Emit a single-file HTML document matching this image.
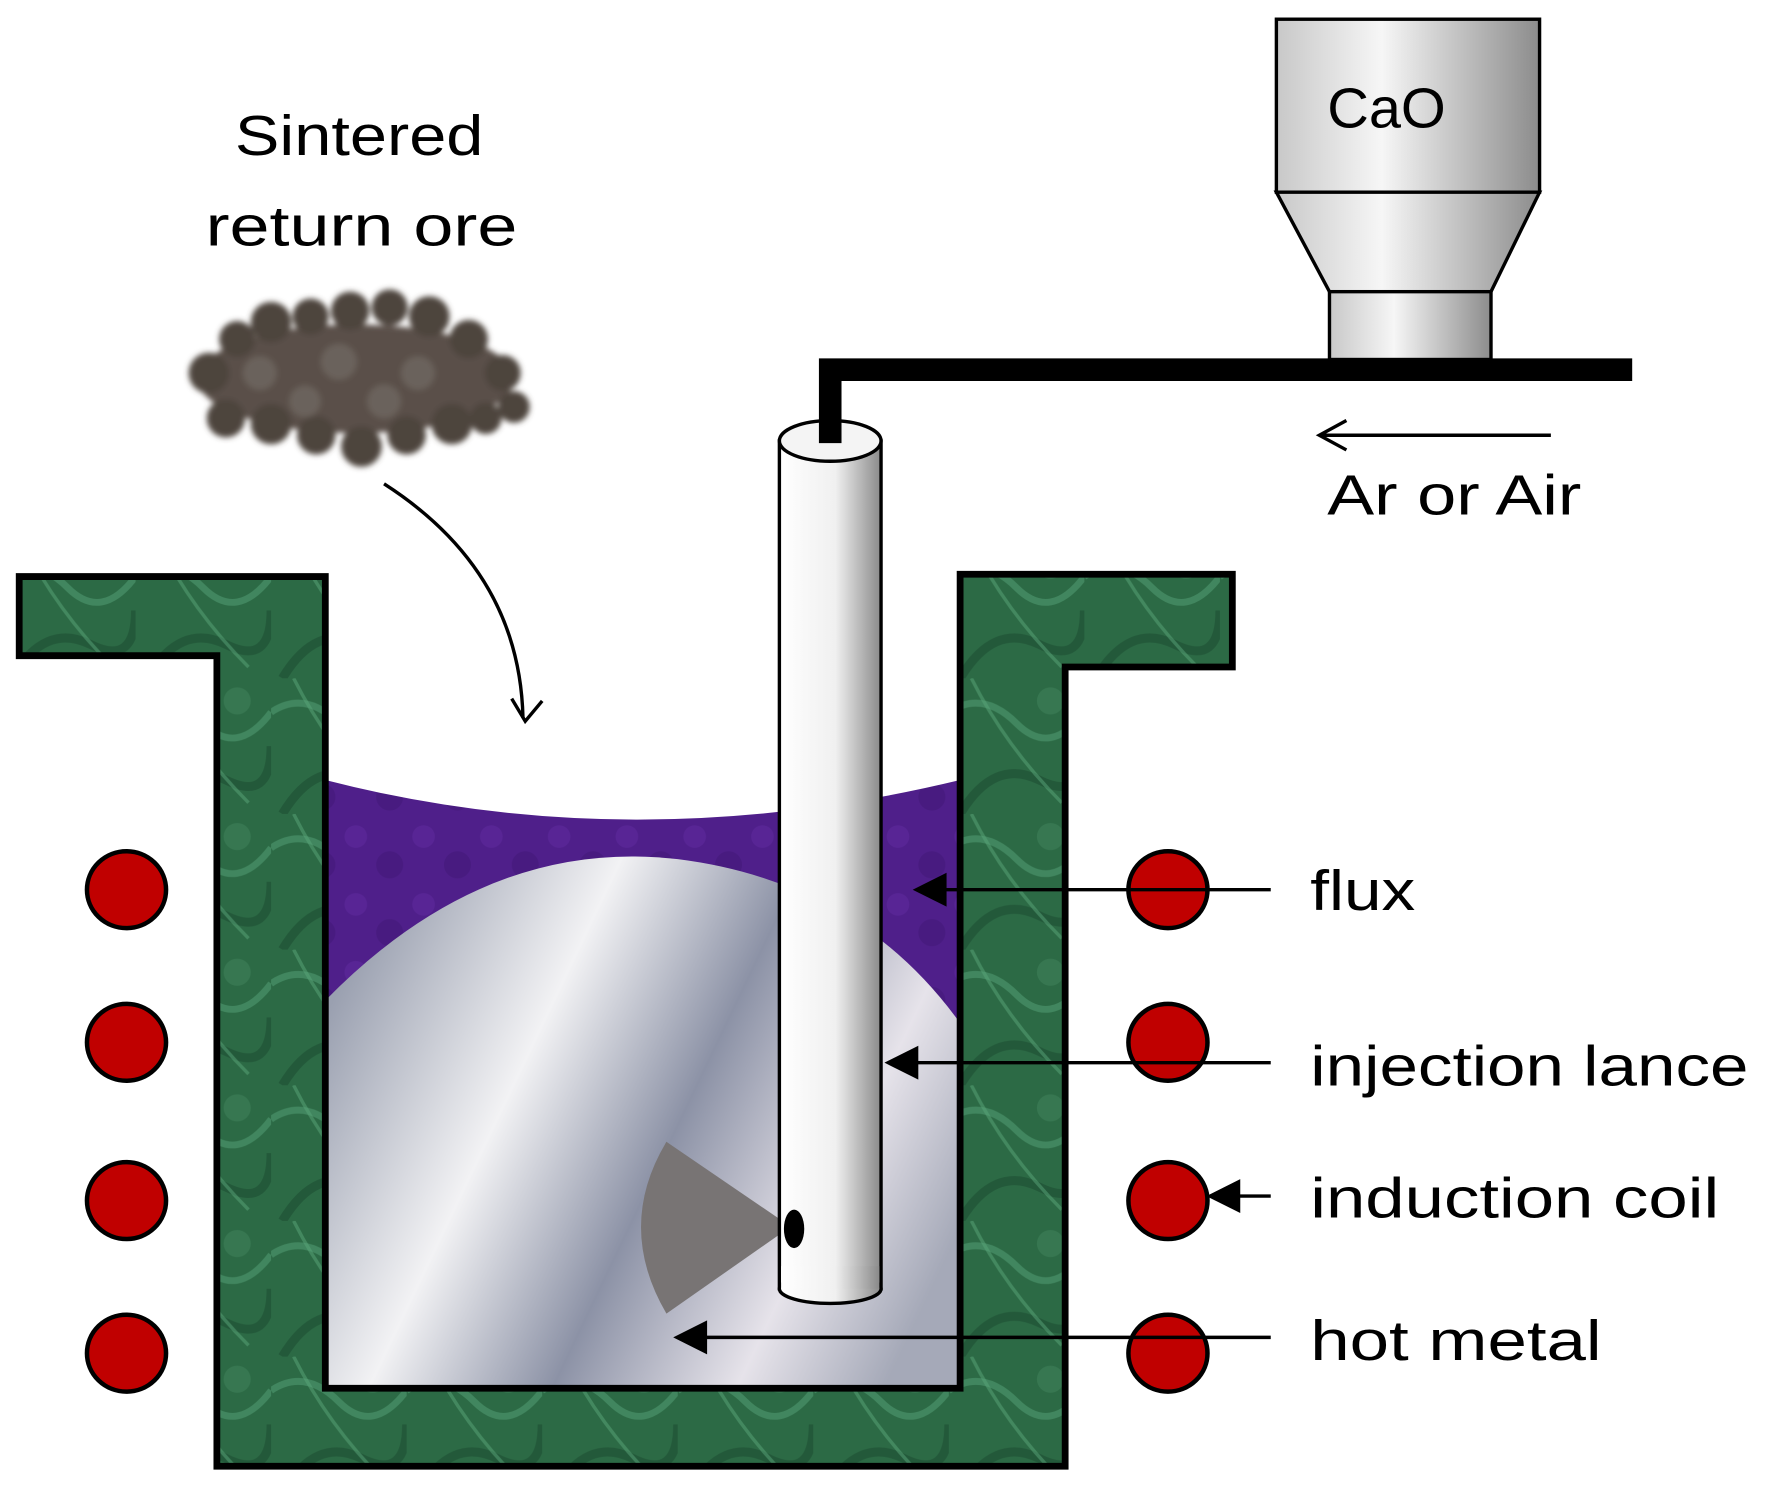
<!DOCTYPE html>
<html><head><meta charset="utf-8"><style>
html,body{margin:0;padding:0;background:#fff;}
svg{display:block;}
text{font-family:"Liberation Sans",sans-serif;fill:#000;}
</style></head><body>
<svg width="1770" height="1490" viewBox="0 0 1567 1318" preserveAspectRatio="none" xmlns="http://www.w3.org/2000/svg">
<defs>
<pattern id="marble" width="120" height="120" patternUnits="userSpaceOnUse">
<rect width="120" height="120" fill="#2c6a45"/>
<path d="M0 30 Q30 10 60 40 T120 30" stroke="#4f9a70" stroke-width="6" fill="none" opacity=".6"/>
<path d="M10 120 Q40 70 80 90 T120 60" stroke="#1d4f32" stroke-width="8" fill="none" opacity=".6"/>
<path d="M20 0 Q50 60 100 110" stroke="#5aa57a" stroke-width="3" fill="none" opacity=".5"/>
<circle cx="90" cy="20" r="12" fill="#3d8058" opacity=".6"/>
</pattern>
<pattern id="purple" width="60" height="60" patternUnits="userSpaceOnUse">
<rect width="60" height="60" fill="#4f1f8a"/>
<circle cx="15" cy="20" r="10" fill="#5e2a9c" opacity=".6"/>
<circle cx="45" cy="45" r="12" fill="#42197a" opacity=".6"/>
</pattern>
<linearGradient id="metal" x1="0" y1="0.3" x2="1" y2="0.7">
<stop offset="0" stop-color="#9aa0b0"/>
<stop offset="0.3" stop-color="#f2f2f4"/>
<stop offset="0.55" stop-color="#8c92a6"/>
<stop offset="0.8" stop-color="#e6e3ea"/>
<stop offset="1" stop-color="#a5a9b8"/>
</linearGradient>
<linearGradient id="lance" x1="0" x2="1">
<stop offset="0" stop-color="#fff"/>
<stop offset="0.55" stop-color="#f0f0f0"/>
<stop offset="1" stop-color="#8a8a8a"/>
</linearGradient>
<linearGradient id="hop" x1="0" x2="1">
<stop offset="0" stop-color="#c8c8c8"/>
<stop offset="0.4" stop-color="#f6f6f6"/>
<stop offset="1" stop-color="#8c8c8c"/>
</linearGradient>
<filter id="blur"><feGaussianBlur stdDeviation="2.5"/></filter>
</defs>

<path d="M288 690 Q560 760 850 690 L850 1228 L288 1228 Z" fill="url(#purple)"/>
<path d="M288 885 Q430 740 600 760 Q760 780 850 905 L850 1228 L288 1228 Z" fill="url(#metal)"/>

<path d="M17 510 L288 510 L288 1228 L850 1228 L850 508 L1091 508 L1091 590 L943 590 L943 1297 L192 1297 L192 580 L17 580 Z" fill="url(#marble)" stroke="#000" stroke-width="6"/>

<path d="M700 1085 L590 1010 Q545 1085 590 1162 Z" fill="#787474"/>

<rect x="690" y="390" width="90" height="750" fill="url(#lance)" stroke="#000" stroke-width="3"/>
<ellipse cx="735" cy="1140" rx="45" ry="13" fill="url(#lance)" stroke="#000" stroke-width="3"/>
<rect x="691.5" y="1120" width="87" height="20" fill="url(#lance)"/>
<ellipse cx="735" cy="390" rx="45" ry="18" fill="#f4f4f4" stroke="#000" stroke-width="3"/>
<ellipse cx="703" cy="1087" rx="9" ry="17" fill="#000"/>

<path d="M735 392 L735 327 L1445 327" fill="none" stroke="#000" stroke-width="20"/>

<rect x="1130" y="17" width="233" height="153" fill="url(#hop)" stroke="#000" stroke-width="3"/>
<path d="M1130 170 L1363 170 L1320 258 L1177 258 Z" fill="url(#hop)" stroke="#000" stroke-width="3"/>
<rect x="1177" y="258" width="143" height="60" fill="url(#hop)" stroke="#000" stroke-width="3"/>
<text x="1175" y="113" font-size="50" textLength="105" lengthAdjust="spacingAndGlyphs">CaO</text>

<path d="M1373 385 L1170 385 M1192 372 L1168 385 L1192 398" stroke="#000" stroke-width="3" fill="none"/>
<text x="1175" y="455" font-size="50" textLength="225" lengthAdjust="spacingAndGlyphs">Ar or Air</text>

<g filter="url(#blur)">
<ellipse cx="315" cy="335" rx="140" ry="48" fill="#5a5048"/>
<g fill="#4e443e">
<circle cx="185" cy="330" r="18"/><circle cx="210" cy="300" r="16"/><circle cx="240" cy="285" r="18"/>
<circle cx="275" cy="280" r="16"/><circle cx="310" cy="275" r="17"/><circle cx="345" cy="272" r="16"/>
<circle cx="380" cy="280" r="18"/><circle cx="415" cy="300" r="17"/><circle cx="445" cy="330" r="16"/>
<circle cx="455" cy="360" r="14"/><circle cx="200" cy="370" r="17"/><circle cx="240" cy="375" r="18"/>
<circle cx="280" cy="385" r="17"/><circle cx="320" cy="395" r="18"/><circle cx="360" cy="385" r="17"/>
<circle cx="400" cy="375" r="18"/><circle cx="430" cy="370" r="14"/>
</g>
<g fill="#6b625b">
<circle cx="230" cy="330" r="15"/><circle cx="300" cy="320" r="16"/><circle cx="370" cy="330" r="15"/><circle cx="270" cy="355" r="14"/><circle cx="340" cy="355" r="15"/>
</g>
</g>
<text x="208" y="137" font-size="50" textLength="220" lengthAdjust="spacingAndGlyphs">Sintered</text>
<text x="182" y="217" font-size="50" textLength="276" lengthAdjust="spacingAndGlyphs">return ore</text>
<path d="M340 428 Q460 505 463 635" fill="none" stroke="#000" stroke-width="3"/>
<path d="M453 618 L465 638 L480 620" fill="none" stroke="#000" stroke-width="3"/>

<g fill="#c00000" stroke="#000" stroke-width="4">
<ellipse cx="112" cy="787" rx="35" ry="34"/>
<ellipse cx="112" cy="922" rx="35" ry="34"/>
<ellipse cx="112" cy="1062" rx="35" ry="34"/>
<ellipse cx="112" cy="1197" rx="35" ry="34"/>
<ellipse cx="1034" cy="787" rx="35" ry="34"/>
<ellipse cx="1034" cy="922" rx="35" ry="34"/>
<ellipse cx="1034" cy="1062" rx="35" ry="34"/>
<ellipse cx="1034" cy="1197" rx="35" ry="34"/>
</g>

<g stroke="#000" stroke-width="3">
<line x1="1125" y1="787" x2="825" y2="787"/>
<line x1="1125" y1="940" x2="800" y2="940"/>
<line x1="1125" y1="1058" x2="1090" y2="1058"/>
<line x1="1125" y1="1183" x2="615" y2="1183"/>
</g>
<g fill="#000">
<path d="M808 787 L838 772 L838 802 Z"/>
<path d="M783 940 L813 925 L813 955 Z"/>
<path d="M1068 1058 L1098 1043 L1098 1073 Z"/>
<path d="M596 1183 L626 1168 L626 1198 Z"/>
</g>
<text x="1160" y="805" font-size="50" textLength="93" lengthAdjust="spacingAndGlyphs">flux</text>
<text x="1160" y="960" font-size="50" textLength="388" lengthAdjust="spacingAndGlyphs">injection lance</text>
<text x="1160" y="1077" font-size="50" textLength="362" lengthAdjust="spacingAndGlyphs">induction coil</text>
<text x="1160" y="1203" font-size="50" textLength="258" lengthAdjust="spacingAndGlyphs">hot metal</text>
</svg>
</body></html>
